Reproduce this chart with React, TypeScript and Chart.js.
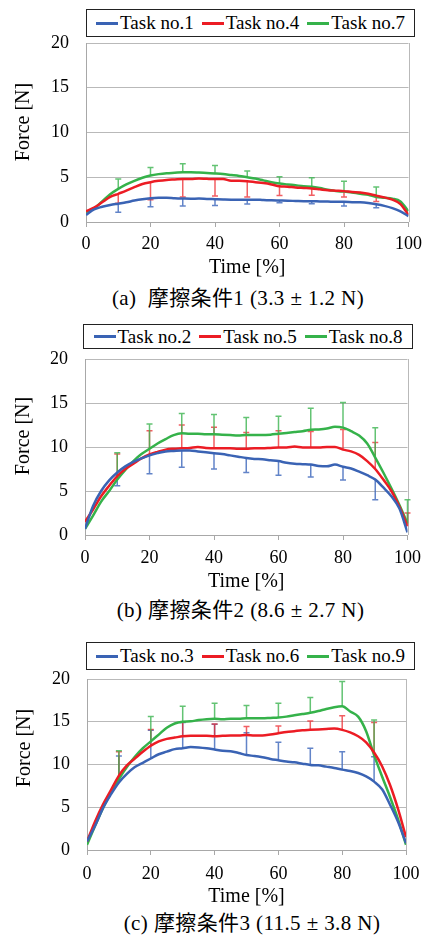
import React, { useEffect, useRef } from 'react';
import { Chart, registerables } from 'chart.js';

Chart.register(...registerables);

// ---------- data ----------
const TIME = [0, 2.5, 5, 7.5, 10, 12.5, 15, 17.5, 20, 22.5, 25, 27.5, 30, 32.5, 35, 37.5, 40, 42.5, 45, 47.5, 50,
  52.5, 55, 57.5, 60, 62.5, 65, 67.5, 70, 72.5, 75, 77.5, 80, 82.5, 85, 87.5, 90, 92.5, 95, 97.5, 100];
const ERROR_X = [10, 20, 30, 40, 50, 60, 70, 80, 90, 100];
const X_TICKS = [0, 20, 40, 60, 80, 100];
const Y_TICKS = [0, 5, 10, 15, 20];
const X_TITLE = 'Time [%]';
const Y_TITLE = 'Force [N]';

// (a)
const LABELS_A = ['Task no.1', 'Task no.4', 'Task no.7'];
const TASK1 = [0.8, 1.4, 1.7, 1.9, 2.05, 2.2, 2.4, 2.55, 2.65, 2.7, 2.7, 2.65, 2.62, 2.6, 2.62, 2.58, 2.55, 2.52, 2.5, 2.5, 2.48,
  2.5, 2.45, 2.42, 2.4, 2.38, 2.35, 2.32, 2.33, 2.3, 2.28, 2.25, 2.25, 2.22, 2.2, 2.12, 1.98, 1.8, 1.55, 1.2, 0.65];
const TASK4 = [1.2, 1.6, 2.2, 2.8, 3.15, 3.5, 3.9, 4.25, 4.45, 4.6, 4.7, 4.75, 4.8, 4.8, 4.85, 4.82, 4.8, 4.8, 4.6, 4.6, 4.55,
  4.45, 4.35, 4.2, 4.0, 3.95, 3.85, 3.8, 3.75, 3.65, 3.55, 3.5, 3.45, 3.35, 3.3, 3.15, 2.95, 2.75, 2.5, 2.0, 0.8];
const TASK7 = [1.1, 1.5, 2.3, 3.1, 3.7, 4.2, 4.6, 4.95, 5.2, 5.35, 5.45, 5.5, 5.55, 5.55, 5.52, 5.48, 5.42, 5.35, 5.25, 5.15, 5.0,
  4.85, 4.65, 4.45, 4.3, 4.2, 4.1, 4.0, 3.95, 3.8, 3.6, 3.45, 3.4, 3.3, 3.15, 3.05, 2.8, 2.7, 2.6, 2.3, 1.2];
const ERR1 = [1.1, 1.7, 1.8, 1.85, 2.0, 2.15, 2.05, 1.8, 1.6, null];
const ERR4 = [2.1, 2.5, 2.8, 2.9, 2.8, 2.95, 3.0, 2.8, 2.3, null];
const ERR7 = [4.8, 6.1, 6.5, 6.3, 5.7, 5.05, 4.95, 4.55, 3.9, null];
const CAPTION_A = '(a)  摩擦条件1 (3.3 ± 1.2 N)';

// (b)
const LABELS_B = ['Task no.2', 'Task no.5', 'Task no.8'];
const TASK2 = [0.7, 3.3, 5.0, 6.2, 7.1, 7.8, 8.3, 8.7, 9.05, 9.3, 9.5, 9.55, 9.6, 9.6, 9.5, 9.4, 9.3, 9.2, 9.05, 8.9, 8.75,
  8.65, 8.6, 8.5, 8.4, 8.2, 8.1, 8.05, 8.0, 7.85, 7.8, 8.0, 7.75, 7.55, 7.2, 6.8, 6.3, 5.4, 4.4, 3.0, 0.3];
const TASK5 = [1.5, 2.9, 4.4, 5.6, 6.7, 7.5, 8.1, 8.7, 9.15, 9.45, 9.7, 9.8, 9.85, 9.9, 10.0, 9.9, 9.85, 9.85, 9.85, 9.8, 9.8,
  9.85, 9.85, 9.9, 9.95, 9.95, 10.05, 9.95, 9.95, 9.95, 10.0, 10.0, 9.7, 9.5, 9.1, 8.4, 7.5, 6.3, 5.0, 3.2, 1.0];
const TASK8 = [0.7, 2.2, 3.8, 5.0, 6.3, 7.4, 8.4, 9.2, 9.8, 10.4, 10.9, 11.35, 11.55, 11.5, 11.5, 11.45, 11.45, 11.4, 11.35, 11.3, 11.35,
  11.35, 11.35, 11.4, 11.5, 11.6, 11.7, 11.8, 11.95, 12.0, 12.1, 12.3, 12.2, 11.8, 11.3, 10.4, 8.8, 7.1, 5.3, 3.4, 1.3];
const ERR2 = [5.6, 6.95, 7.7, 7.5, 7.1, 6.8, 6.6, 6.25, 4.0, null];
const ERR5 = [9.2, 11.85, 12.5, 12.25, 11.65, 11.85, 11.75, 12.0, 10.5, 2.5];
const ERR8 = [9.35, 12.6, 13.8, 13.7, 13.35, 13.5, 14.4, 15.05, 12.2, 4.0];
const CAPTION_B = '(b) 摩擦条件2 (8.6 ± 2.7 N)';

// (c)
const LABELS_C = ['Task no.3', 'Task no.6', 'Task no.9'];
const TASK3 = [1.0, 2.8, 4.9, 6.5, 7.9, 8.9, 9.7, 10.2, 10.7, 11.2, 11.5, 11.8, 11.9, 12.05, 12.0, 11.9, 11.75, 11.6, 11.55, 11.35, 11.1,
  11.0, 10.85, 10.65, 10.5, 10.35, 10.25, 10.1, 9.95, 9.9, 9.75, 9.6, 9.4, 9.25, 9.0, 8.6, 8.0, 7.1, 5.3, 3.3, 0.8];
const TASK6 = [1.0, 3.3, 5.3, 7.0, 8.7, 9.9, 10.7, 11.5, 12.2, 12.7, 13.0, 13.15, 13.3, 13.35, 13.35, 13.35, 13.3, 13.35, 13.4, 13.4, 13.45,
  13.4, 13.4, 13.5, 13.65, 13.8, 13.9, 14.0, 14.05, 14.1, 14.15, 14.2, 14.05, 13.75, 13.3, 12.6, 11.4, 9.8, 7.6, 4.8, 1.5];
const TASK9 = [0.6, 2.8, 4.9, 6.7, 8.3, 9.7, 10.9, 11.9, 12.7, 13.5, 14.3, 14.8, 15.0, 15.05, 15.2, 15.3, 15.35, 15.3, 15.35, 15.35, 15.4,
  15.4, 15.4, 15.45, 15.5, 15.6, 15.75, 15.9, 16.05, 16.25, 16.5, 16.7, 16.8, 16.2, 15.6, 13.9, 11.1, 8.6, 6.2, 3.6, 0.6];
const ERR3 = [11.0, 14.0, 14.9, 14.7, 13.7, 12.6, 11.9, 11.5, 10.9, null];
const ERR6 = [11.5, 14.1, 15.0, 14.75, 14.45, 14.5, 15.1, 15.7, 14.9, null];
const ERR9 = [11.6, 15.6, 16.8, 17.15, 16.9, 17.15, 17.85, 19.7, 15.2, null];
const CAPTION_C = '(c) 摩擦条件3 (11.5 ± 3.8 N)';

// ---------- styles ----------
const COLORS = ['#3a63b4', '#ec1c24', '#35b24a'];
const ERR_COLORS = ['rgba(70,110,190,0.85)', 'rgba(236,40,46,0.75)', 'rgba(60,180,80,0.8)'];
const GRID = '#b9b9b9';
const AXIS = '#a8a8a8';
const SERIF = '"Liberation Serif", "Times New Roman", serif';
const CAPTION_FONT = '"Liberation Serif", "Noto Sans CJK JP", serif';

const PANELS = [
  {
    labels: LABELS_A, series: [TASK1, TASK4, TASK7], errors: [ERR1, ERR4, ERR7], caption: CAPTION_A,
    canvasTop: 0, plotTop: 43, plotBottom: 222, plotLeft: 86, plotRight: 410, xTickPad: 6, xTitleY: 268,
    yTitleX: 24, yTitleY: 122, legend: { left: 86, top: 9, width: 329, height: 28 }, capX: 238, capY: 298,
  },
  {
    labels: LABELS_B, series: [TASK2, TASK5, TASK8], errors: [ERR2, ERR5, ERR8], caption: CAPTION_B,
    canvasTop: 300, plotTop: 359, plotBottom: 535, plotLeft: 85, plotRight: 409, xTickPad: 7, xTitleY: 582,
    yTitleX: 24, yTitleY: 436, legend: { left: 83, top: 324, width: 330, height: 25 }, capX: 240.5, capY: 610,
  },
  {
    labels: LABELS_C, series: [TASK3, TASK6, TASK9], errors: [ERR3, ERR6, ERR9], caption: CAPTION_C,
    canvasTop: 615, plotTop: 679, plotBottom: 850, plotLeft: 87, plotRight: 413, xTickPad: 8.5, xTitleY: 897,
    yTitleX: 25, yTitleY: 748, legend: { left: 86, top: 642, width: 329, height: 28 }, capX: 252, capY: 923,
  },
];

const decorPlugin = {
  id: 'decor',
  beforeDatasetsDraw(chart: any) {
    const { ctx, chartArea: a, scales } = chart;
    const xs = scales.x;
    const ys = scales.y;
    ctx.save();
    // right frame
    ctx.strokeStyle = GRID;
    ctx.lineWidth = 1;
    ctx.beginPath();
    ctx.moveTo(Math.round(a.right) + 0.5, a.top);
    ctx.lineTo(Math.round(a.right) + 0.5, a.bottom);
    ctx.stroke();
    // error bars
    ctx.lineWidth = 1.5;
    chart.data.datasets.forEach((ds: any) => {
      const tips = ds.errorTips as (number | null)[];
      ctx.strokeStyle = ds.errorColor;
      ERROR_X.forEach((xv, k) => {
        const tip = tips[k];
        if (tip == null) return;
        const idx = TIME.indexOf(xv);
        const mean = ds.data[idx].y;
        const px = xs.getPixelForValue(xv);
        const p0 = ys.getPixelForValue(mean);
        const p1 = ys.getPixelForValue(tip);
        ctx.beginPath();
        ctx.moveTo(px, p0);
        ctx.lineTo(px, p1);
        ctx.moveTo(px - 3, p1);
        ctx.lineTo(px + 3, p1);
        ctx.stroke();
      });
    });
    ctx.restore();
  },
  afterDraw(chart: any, _args: any, opts: any) {
    const { ctx } = chart;
    ctx.save();
    ctx.translate(opts.x, opts.y);
    ctx.rotate(-Math.PI / 2);
    ctx.font = `20px ${SERIF}`;
    ctx.fillStyle = '#000';
    ctx.textAlign = 'center';
    ctx.textBaseline = 'middle';
    ctx.fillText(Y_TITLE, 0, 0);
    ctx.restore();
  },
};

function Panel({ p }: { p: any }) {
  const ref = useRef<HTMLCanvasElement>(null);
  const canvasH = p.xTitleY + 14 - p.canvasTop;

  useEffect(() => {
    if (!ref.current) return;
    const chart = new Chart(ref.current, {
      type: 'line',
      data: {
        datasets: p.series.map((s: number[], i: number) => ({
          label: p.labels[i],
          data: TIME.map((t, k) => ({ x: t, y: s[k] })),
          borderColor: COLORS[i],
          backgroundColor: COLORS[i],
          borderWidth: 2.5,
          pointRadius: 0,
          cubicInterpolationMode: 'monotone',
          errorTips: p.errors[i],
          errorColor: ERR_COLORS[i],
        })) as any,
      },
      options: {
        responsive: false,
        animation: false,
        devicePixelRatio: 1,
        events: [],
        layout: { padding: { left: 0, right: 428 - p.plotRight, top: p.plotTop - p.canvasTop, bottom: 0 } },
        plugins: {
          legend: { display: false },
          tooltip: { enabled: false },
          title: { display: false },
          decor: { x: p.yTitleX, y: p.yTitleY - p.canvasTop },
        } as any,
        scales: {
          x: {
            type: 'linear',
            min: 0,
            max: 100,
            afterBuildTicks: (s: any) => { s.ticks = X_TICKS.map((v) => ({ value: v })); },
            afterFit: (s: any) => { s.height = p.canvasTop + canvasH - p.plotBottom; },
            grid: { drawOnChartArea: false, drawTicks: true, tickLength: 5, color: AXIS },
            border: { color: AXIS, width: 1 },
            ticks: { font: { family: SERIF, size: 18 }, color: '#000', padding: p.xTickPad, maxRotation: 0, autoSkip: false },
            title: { display: true, text: X_TITLE, font: { family: SERIF, size: 20 }, color: '#000', padding: { top: 0, bottom: 2 } },
          },
          y: {
            type: 'linear',
            min: 0,
            max: 20,
            afterBuildTicks: (s: any) => { s.ticks = Y_TICKS.map((v) => ({ value: v })); },
            afterFit: (s: any) => { s.width = p.plotLeft; },
            grid: { color: GRID, drawTicks: false, lineWidth: 1 },
            border: { color: AXIS, width: 1 },
            ticks: { font: { family: SERIF, size: 18 }, color: '#000', padding: 17 },
          },
        } as any,
      },
      plugins: [decorPlugin as any],
    });
    return () => chart.destroy();
  }, []);

  return (
    <>
      <canvas
        ref={ref}
        width={428}
        height={canvasH}
        style={{ position: 'absolute', left: 0, top: p.canvasTop, width: 428, height: canvasH }}
      />
      <div
        style={{
          position: 'absolute', left: p.legend.left, top: p.legend.top, width: p.legend.width, height: p.legend.height,
          boxSizing: 'border-box', border: '1px solid #222', background: '#fff', display: 'flex',
          alignItems: 'center', justifyContent: 'center', gap: 8,
        }}
      >
        {p.labels.map((l: string, i: number) => (
          <div key={l} style={{ display: 'flex', alignItems: 'center' }}>
            <span style={{ display: 'inline-block', width: 22, height: 3, background: COLORS[i] }} />
            <span style={{ marginLeft: 2, fontFamily: SERIF, fontSize: 19, lineHeight: '20px', color: '#000' }}>{l}</span>
          </div>
        ))}
      </div>
      <div
        style={{
          position: 'absolute', left: p.capX, top: p.capY - 12, height: 24, lineHeight: '24px',
          transform: 'translateX(-50%)', fontFamily: CAPTION_FONT, fontSize: 21, letterSpacing: '0.4px',
          whiteSpace: 'pre', color: '#000',
        }}
      >
        {p.caption}
      </div>
    </>
  );
}

export default function App() {
  return (
    <div style={{ position: 'absolute', left: 0, top: 0, width: 428, height: 938, background: '#fff', overflow: 'hidden' }}>
      {PANELS.map((p, i) => (
        <Panel key={i} p={p} />
      ))}
    </div>
  );
}
